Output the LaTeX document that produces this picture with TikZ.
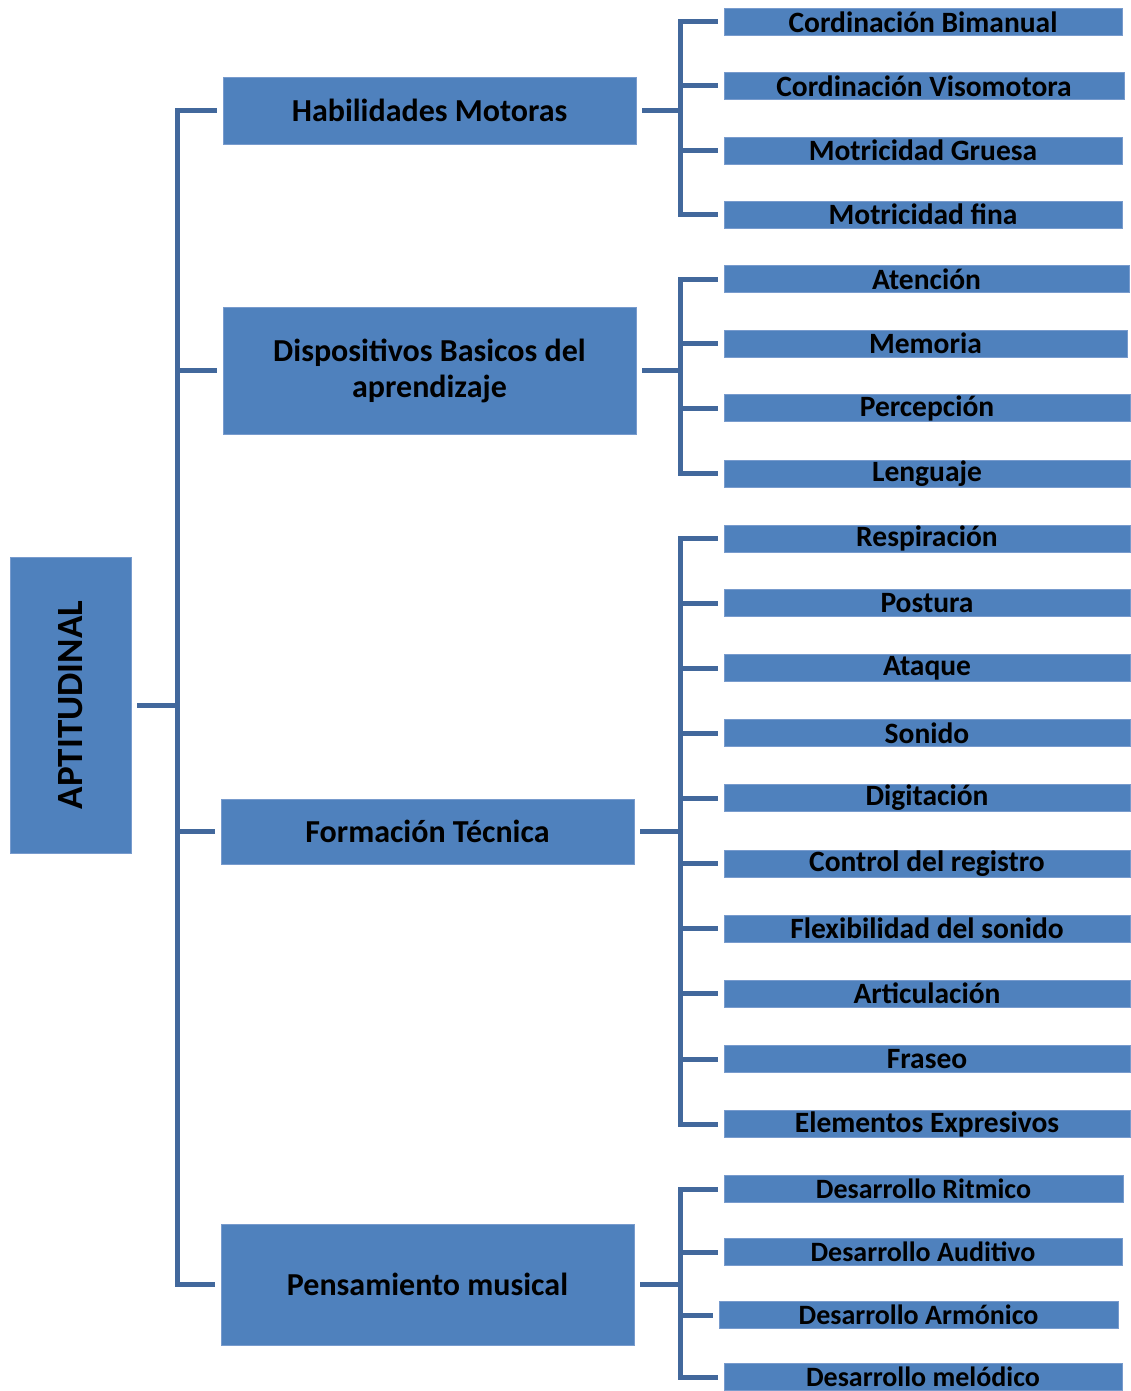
\documentclass[tikz,border=0pt]{standalone}
\usepackage{fontspec}
\setmainfont{Carlito}
\definecolor{boxblue}{RGB}{79,129,189}
\definecolor{boxedge}{RGB}{120,155,205}
\definecolor{linkblue}{RGB}{66,104,156}
\begin{document}
\begin{tikzpicture}[x=1pt,y=-1pt,
  box/.style={fill=boxblue,draw=boxedge,line width=0.8pt,inner sep=0pt,align=center,font=\bfseries},
  leaf/.style={box,minimum height=27pt,font=\fontsize{29.5}{32}\bfseries\selectfont},
  leafsm/.style={leaf,font=\fontsize{28}{30}\bfseries\selectfont},
  mid/.style={box,minimum width=413pt,font=\fontsize{32}{36}\bfseries\selectfont},
  conn/.style={draw=linkblue,line width=5pt,line cap=rect}]
\useasboundingbox (0,0) rectangle (1130,1391);
% root
\node[box,minimum width=121pt,minimum height=296pt] (root) at (70.5,705) {};
\node[rotate=90,font=\fontsize{37}{40}\bfseries\selectfont] (roottxt) at (root.center) {APTITUDINAL};
% mid level
\node[mid,minimum height=67pt] (hm) at (429.5,110.5) {Habilidades Motoras};
\node[mid,minimum height=127pt] (db) at (429.5,370.5) {Dispositivos Basicos del\\aprendizaje};
\node[mid,minimum height=65pt] (ft) at (427.5,831.5) {Formación Técnica};
\node[mid,minimum height=121pt] (pm) at (427.5,1284.5) {Pensamiento musical};
% leaves group 1
\node[leaf,minimum width=398pt] (a1) at (923,22) {Cordinación Bimanual};
\node[leaf,minimum width=400pt] (a2) at (924,86) {Cordinación Visomotora};
\node[leaf,minimum width=398pt] (a3) at (923,150.5) {Motricidad Gruesa};
\node[leaf,minimum width=398pt] (a4) at (923,214.5) {Motricidad fina};
% group 2
\node[leaf,minimum width=405pt] (b1) at (926.5,279) {Atención};
\node[leaf,minimum width=403pt] (b2) at (925.5,343.5) {Memoria};
\node[leaf,minimum width=406pt] (b3) at (927,408) {Percepción};
\node[leaf,minimum width=406pt] (b4) at (927,473.5) {Lenguaje};
% group 3
\node[leaf,minimum width=406pt] (c1) at (927,538.5) {Respiración};
\node[leaf,minimum width=406pt] (c2) at (927,603) {Postura};
\node[leaf,minimum width=406pt] (c3) at (927,668) {Ataque};
\node[leaf,minimum width=406pt] (c4) at (927,733) {Sonido};
\node[leaf,minimum width=406pt] (c5) at (927,798) {Digitación};
\node[leaf,minimum width=406pt] (c6) at (927,863.5) {Control del registro};
\node[leaf,minimum width=406pt] (c7) at (927,928.5) {Flexibilidad del sonido};
\node[leaf,minimum width=406pt] (c8) at (927,993.5) {Articulación};
\node[leaf,minimum width=406pt] (c9) at (927,1059) {Fraseo};
\node[leaf,minimum width=406pt] (c10) at (927,1124) {Elementos Expresivos};
% group 4
\node[leafsm,minimum width=399pt] (d1) at (923.5,1189) {Desarrollo Ritmico};
\node[leafsm,minimum width=398pt] (d2) at (923,1252) {Desarrollo Auditivo};
\node[leafsm,minimum width=399pt] (d3) at (918.5,1315) {Desarrollo Armónico};
\node[leafsm,minimum width=398pt] (d4) at (923,1377) {Desarrollo melódico};
% connector coordinates
\coordinate (trunk) at (177.5,0);
\coordinate (fork) at (680,0);
% root connectors
\draw[conn] ([xshift=8pt]root.east) -- (trunk |- root);
\draw[conn] (trunk |- hm) -- (trunk |- pm);
\foreach \m in {hm,db,ft,pm}{
  \draw[conn] (trunk |- \m) -- ([xshift=-8pt]\m.west);
  \draw[conn] ([xshift=8pt]\m.east) -- (fork |- \m);
}
\draw[conn] (fork |- a1) -- (fork |- a4);
\draw[conn] (fork |- b1) -- (fork |- b4);
\draw[conn] (fork |- c1) -- (fork |- c10);
\draw[conn] (fork |- d1) -- (fork |- d4);
\foreach \l in {a1,a2,a3,a4,b1,b2,b3,b4,c1,c2,c3,c4,c5,c6,c7,c8,c9,c10,d1,d2,d3,d4}{
  \draw[conn] (fork |- \l) -- ([xshift=-8pt]\l.west);
}
\end{tikzpicture}
\end{document}
